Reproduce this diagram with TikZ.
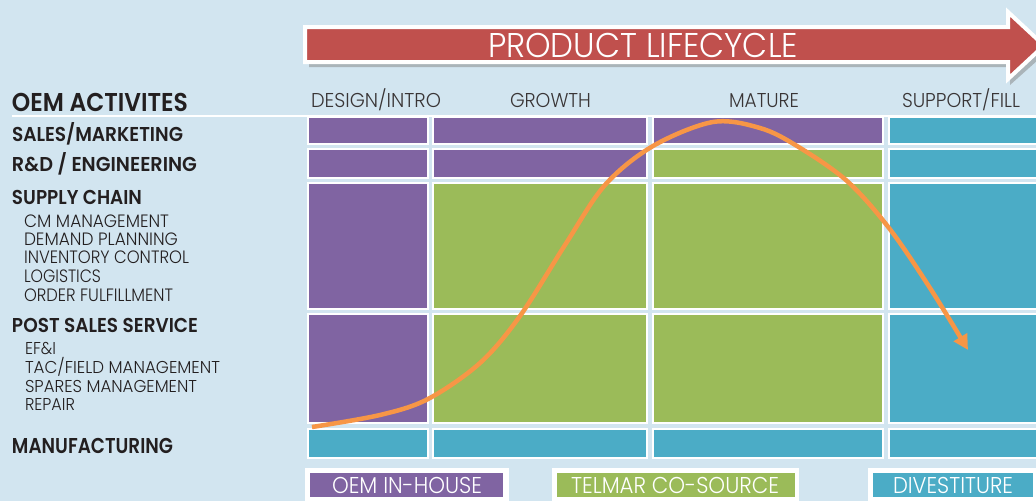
\documentclass[tikz,border=0pt]{standalone}
\usepackage{fontspec}
\setmainfont{Poppins}
\newfontfamily\lightf{Poppins Light}
\newfontfamily\semib{Poppins SemiBold}
\usetikzlibrary{arrows.meta}
\definecolor{bgc}{HTML}{D2E5F0}
\definecolor{purp}{HTML}{8064A2}
\definecolor{grn}{HTML}{9BBB59}
\definecolor{cyn}{HTML}{4BACC6}
\definecolor{redc}{HTML}{C0504D}
\definecolor{orng}{HTML}{F79646}
\definecolor{ink}{HTML}{231F20}
% #1 width, #2 cap height, #3 font, #4 text
\newcommand\fitt[4]{{#3\sbox0{#4}\sbox2{H}\scalebox{\fpeval{#1pt/\the\wd0}}[\fpeval{#2pt/\the\ht2}]{\usebox0}}}
\tikzset{
  lbl/.style={anchor=base west, inner sep=0pt, outer sep=0pt, text=ink},
  hdr/.style={anchor=base west, inner sep=0pt, outer sep=0pt, text=ink!90},
  wlbl/.style={anchor=base west, inner sep=0pt, outer sep=0pt, text=white},
  cellP/.style={fill=purp, draw=white, line width=1.5pt},
  cellG/.style={fill=grn, draw=white, line width=1.5pt},
  cellC/.style={fill=cyn, draw=white, line width=1.5pt},
  curve/.style={draw=orng, line width=4.5pt, -{Triangle[length=15pt,width=15pt]}}
}
\begin{document}
\begin{tikzpicture}[x=1pt,y=-1pt]
\useasboundingbox (0,0) rectangle (1036,501);
\fill[bgc] (0,0) rectangle (1036,501);

% lifecycle arrow
\fill[gray!60!bgc, opacity=0.8] (309,32) -- (1010,32) -- (1010,17) -- (1048,51) -- (1010,85) -- (1010,67) -- (309,67) -- cycle;
\filldraw[fill=redc, draw=white, line width=4pt, line join=miter] (305,27) -- (1008,27) -- (1008,12) -- (1044,45.5) -- (1008,79) -- (1008,62) -- (305,62) -- cycle;
\node[wlbl] (plc) at (488,57) {\fitt{310}{24}{\lightf}{PRODUCT LIFECYCLE}};

% header
\draw[white, line width=2pt] (12,115.5) -- (1036,115.5);
\node[lbl] (oem) at (12,111) {\fitt{176}{18}{\semib}{OEM ACTIVITES}};
\node[hdr] (h1) at (311,107) {\fitt{130}{14}{\lightf}{DESIGN/INTRO}};
\node[hdr] (h2) at (510,107) {\fitt{81}{14}{\lightf}{GROWTH}};
\node[hdr] (h3) at (729,107) {\fitt{70}{14}{\lightf}{MATURE}};
\node[hdr] (h4) at (902,107) {\fitt{118}{14}{\lightf}{SUPPORT/FILL}};

% row labels
\node[lbl] (r1) at (12,141) {\fitt{171}{14}{\semib}{SALES/MARKETING}};
\node[lbl] (r2) at (12,171) {\fitt{185}{14}{\semib}{R\&D / ENGINEERING}};
\node[lbl] (r3) at (12,204) {\fitt{130}{14}{\semib}{SUPPLY CHAIN}};
\node[lbl] (s1) at (24,227) {\fitt{145}{12.5}{\lightf}{CM MANAGEMENT}};
\node[lbl] (s2) at (24,245) {\fitt{154}{12.5}{\lightf}{DEMAND PLANNING}};
\node[lbl] (s3) at (24,263.5) {\fitt{165}{12.5}{\lightf}{INVENTORY CONTROL}};
\node[lbl] (s4) at (24,282) {\fitt{77}{12.5}{\lightf}{LOGISTICS}};
\node[lbl] (s5) at (24,301) {\fitt{149}{12.5}{\lightf}{ORDER FULFILLMENT}};
\node[lbl] (r4) at (12,332) {\fitt{186}{14}{\semib}{POST SALES SERVICE}};
\node[lbl] (t1) at (25,354.5) {\fitt{31}{12}{\lightf}{EF\&I}};
\node[lbl] (t2) at (25,373) {\fitt{195}{12}{\lightf}{TAC/FIELD MANAGEMENT}};
\node[lbl] (t3) at (25,392) {\fitt{172}{12}{\lightf}{SPARES MANAGEMENT}};
\node[lbl] (t4) at (25,410) {\fitt{50}{12}{\lightf}{REPAIR}};
\node[lbl] (r5) at (12,453) {\fitt{161}{15}{\semib}{MANUFACTURING}};

% grid cells (columns 308-428, 433-647, 653-883, 889-1040)
% row 1
\path[cellP] (308,117) rectangle (428,144);
\path[cellP] (433,117) rectangle (647,144);
\path[cellP] (653,117) rectangle (883,144);
\path[cellC] (889,117) rectangle (1040,144);
% row 2
\path[cellP] (308,149) rectangle (428,178);
\path[cellP] (433,149) rectangle (647,178);
\path[cellG] (653,149) rectangle (883,178);
\path[cellC] (889,149) rectangle (1040,178);
% row 3
\path[cellP] (308,183) rectangle (428,309);
\path[cellG] (433,183) rectangle (647,309);
\path[cellG] (653,183) rectangle (883,309);
\path[cellC] (889,183) rectangle (1040,309);
% row 4
\path[cellP] (308,314) rectangle (428,423);
\path[cellG] (433,314) rectangle (647,423);
\path[cellG] (653,314) rectangle (883,423);
\path[cellC] (889,314) rectangle (1040,423);
% row 5
\path[cellC] (308,429) rectangle (428,458);
\path[cellC] (433,429) rectangle (647,458);
\path[cellC] (653,429) rectangle (883,458);
\path[cellC] (889,429) rectangle (1040,458);

% lifecycle curve
\draw[curve] plot[smooth, tension=0.55] coordinates {(312,427) (380,415) (428,399) (480,363) (520,316) (565,245) (605,185) (653,146) (713,122) (760,128) (797,146) (847,181) (889,228) (930,288) (968,350)};

% legend
\fill[white] (305,468) rectangle (509,505);
\fill[purp] (310,473) rectangle (503,497);
\node[wlbl] (lg1) at (332,493) {\fitt{150}{16}{\lightf}{OEM IN-HOUSE}};
\fill[white] (552,468) rectangle (799,505);
\fill[grn] (557,473) rectangle (795,497);
\node[wlbl] (lg2) at (571,493) {\fitt{208}{16}{\lightf}{TELMAR CO-SOURCE}};
\fill[white] (868,468) rectangle (1040,505);
\fill[cyn] (873,473) rectangle (1033,497);
\node[wlbl] (lg3) at (893,493) {\fitt{120}{16}{\lightf}{DIVESTITURE}};
\end{tikzpicture}
\end{document}
